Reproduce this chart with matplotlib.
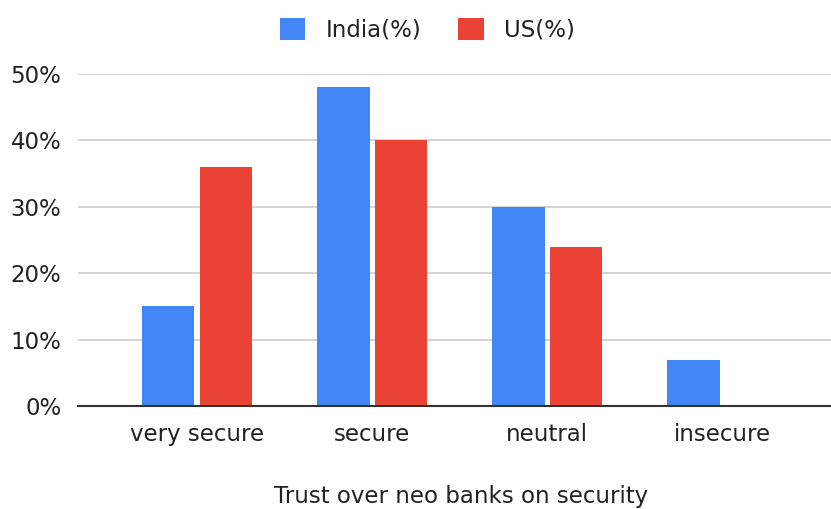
import matplotlib.pyplot as plt
import numpy as np
from matplotlib.patches import Patch

categories = ["very secure", "secure", "neutral", "insecure"]
india = [15, 48, 30, 7]
us = [36, 40, 24, 0]
yticks = [0, 10, 20, 30, 40, 50]

plt.rcParams['font.family'] = ['DejaVu Sans']

blue = "#4285f4"
red = "#ea4335"
txt = "#222222"
fs = 16.5

fig = plt.figure(figsize=(8.31, 5.09), dpi=100)
ax = fig.add_axes([78/831, 1-406/509, 1-78/831, (406-74)/509])

x = np.arange(len(categories))
w = 0.30
gap = 0.015
ax.bar(x - w/2 - gap, india, width=w, color=blue, zorder=3)
ax.bar(x + w/2 + gap, us, width=w, color=red, zorder=3)

ax.set_xlim(-0.68, 3.62)
ax.set_ylim(0, 50)
ax.set_yticks(yticks)
ax.set_yticklabels([f"{v}%" for v in yticks], fontsize=fs, color=txt)
ax.set_xticks(x)
ax.set_xticklabels(categories, fontsize=fs, color=txt)
ax.tick_params(length=0, pad=12)
ax.tick_params(axis='x', pad=12)
ax.grid(axis='y', color="#cccccc", linewidth=1.2, zorder=0)
for s in ["top", "right", "left"]:
    ax.spines[s].set_visible(False)
ax.spines["bottom"].set_color("#333333")
ax.spines["bottom"].set_linewidth(1.5)
ax.spines["bottom"].set_zorder(4)

handles = [Patch(facecolor=blue, label="India(%)"), Patch(facecolor=red, label="US(%)")]
fig.legend(handles=handles, loc="center", bbox_to_anchor=(427/831, 1-30/509), ncol=2,
           frameon=False, fontsize=fs, handlelength=1.13, handleheight=1.13,
           handletextpad=0.87, columnspacing=1.6, labelcolor=txt)

fig.text(461/831, 1-497/509, "Trust over neo banks on security", ha="center", va="center",
         fontsize=fs, color=txt)

fig.savefig("out.png", dpi=100)
